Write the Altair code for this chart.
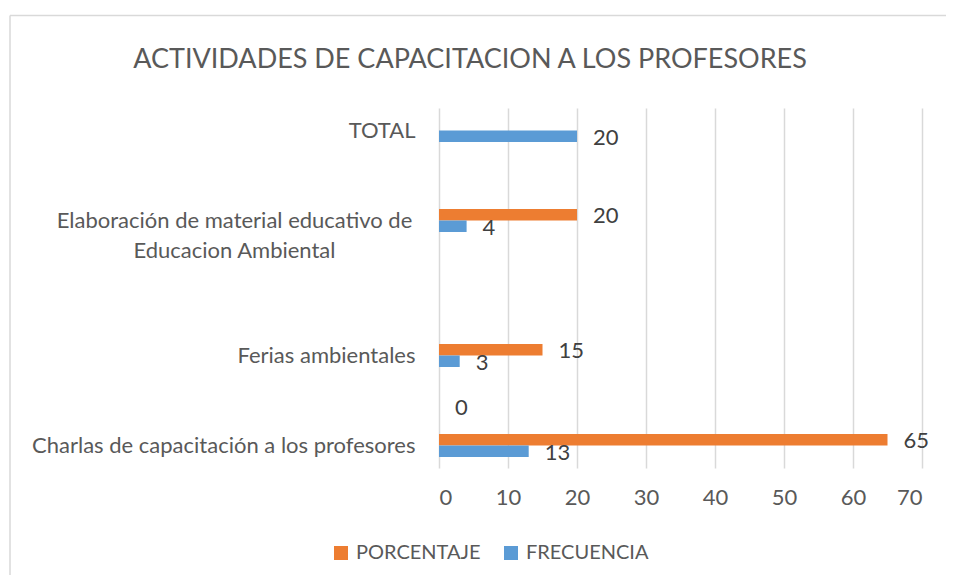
import altair as alt
import pandas as pd

# ---- data ----
keys = ["c0", "c1", "c2", "c3", "c4", "c5", "c6", "c7"]
categories = [
    "TOTAL",
    "",
    "Elaboración de material educativo de\nEducacion Ambiental",
    "",
    "",
    "Ferias ambientales",
    "",
    "Charlas de capacitación a los profesores",
]
porcentaje = [None, None, 20, None, None, 15, None, 65]
frecuencia = [20, None, 4, None, None, 3, 0, 13]
series = ["PORCENTAJE", "FRECUENCIA"]
colors = ["#ED7D31", "#5B9BD5"]
x_ticks = [0, 10, 20, 30, 40, 50, 60, 70]
title_text = "ACTIVIDADES DE CAPACITACION A LOS PROFESORES"

rows = []
for k, p, f in zip(keys, porcentaje, frecuencia):
    if p is not None:
        rows.append({"key": k, "serie": "PORCENTAJE", "valor": p})
    if f is not None:
        rows.append({"key": k, "serie": "FRECUENCIA", "valor": f})
df = pd.DataFrame(rows)

# label lookup expression
parts = []
for k, c in zip(keys, categories):
    if "\n" in c:
        lines = c.split("\n")
        parts.append("'%s':[%s]" % (k, ",".join("'%s'" % l for l in lines)))
    else:
        parts.append("'%s':'%s'" % (k, c))
label_expr = "{" + ",".join(parts) + "}[datum.value]"
multi_keys = [k for k, c in zip(keys, categories) if "\n" in c]
multi_test = " || ".join("datum.value == '%s'" % k for k in multi_keys)

FONT = "Lato"
GREY = "#595959"

y_enc = alt.Y(
    "key:N",
    sort=keys,
    scale=alt.Scale(domain=keys, paddingInner=0.49, paddingOuter=0.245),
    axis=alt.Axis(
        title=None,
        labelExpr=label_expr,
        ticks=False,
        domain=False,
        grid=False,
        labelFontSize=22,
        labelFont=FONT,
        labelColor=GREY,
        labelLineHeight=30,
        labelLimit=500,
        labelAlign={"condition": {"test": multi_test, "value": "center"}, "value": "right"},
        labelPadding={"condition": {"test": multi_test, "value": 205}, "value": 24},
    ),
)
yoff_enc = alt.YOffset("serie:N", sort=series, scale=alt.Scale(domain=series))
x_enc = alt.X(
    "valor:Q",
    scale=alt.Scale(domain=[0, 70], nice=False),
    axis=alt.Axis(
        title=None,
        values=x_ticks,
        grid=True,
        gridColor="#D9D9D9",
        gridWidth=1.5,
        ticks=False,
        domain=False,
        labelFontSize=22,
        labelFont=FONT,
        labelColor=GREY,
        labelPadding=19,
    ),
)

base = alt.Chart(df)

bars = base.mark_bar(size=11.5).encode(
    x=x_enc,
    y=y_enc,
    yOffset=yoff_enc,
    color=alt.Color(
        "serie:N",
        sort=series,
        scale=alt.Scale(domain=series, range=colors),
        legend=alt.Legend(
            title=None,
            orient="none",
            legendX=-108,
            legendY=435,
            padding=0,
            direction="horizontal",
            symbolType="square",
            symbolSize=196,
            symbolStrokeWidth=0,
            labelFontSize=20,
            labelFont=FONT,
            labelColor=GREY,
            labelOffset=5,
            columnPadding=20,
        ),
    ),
)

labels = base.mark_text(
    align="left", baseline="middle", dx=16, dy=1.5, fontSize=22, font=FONT, color="#404040"
).encode(
    x=alt.X("valor:Q"),
    y=alt.Y("key:N", sort=keys),
    yOffset=yoff_enc,
    text=alt.Text("valor:Q"),
)

one = pd.DataFrame({"t": [title_text]})
border = alt.Chart(one).mark_rule(color="#D9D9D9", strokeWidth=1.5).encode(
    x=alt.value(-429), y=alt.value(-92.5), y2=alt.value(600)
)
border_top = alt.Chart(one).mark_rule(color="#D9D9D9", strokeWidth=1.5).encode(
    x=alt.value(-429), x2=alt.value(700), y=alt.value(-92.5)
)
title = alt.Chart(one).mark_text(
    font=FONT, fontSize=27, color=GREY, align="center", baseline="alphabetic"
).encode(x=alt.value(31), y=alt.value(-40), text="t:N")

chart = (
    alt.layer(border, border_top, title, bars, labels)
    .properties(
        width=483,
        height=360,
        background="white",
        padding={"left": 431, "top": 100, "right": 24, "bottom": 107},
        autosize=alt.AutoSizeParams(type="none"),
    )
    .configure_view(stroke=None, strokeWidth=0)
    .configure_axisY(grid=False)
)

chart.save("out.html", embed_options={"renderer": "svg", "actions": False})
